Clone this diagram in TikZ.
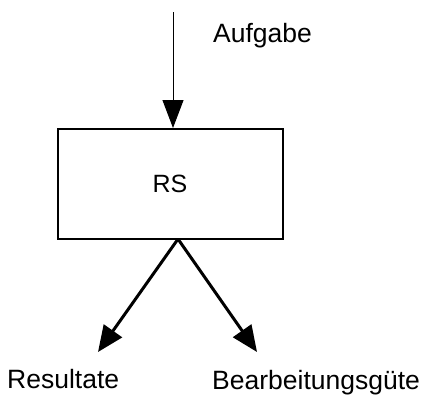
\documentclass[tikz,border=0pt]{standalone}
\usepackage{fontspec}
\setmainfont{Liberation Sans}
\usetikzlibrary{arrows.meta}
\begin{document}
\begin{tikzpicture}[x=1pt,y=-1pt,
  block/.style={draw,line width=2pt,minimum width=225pt,minimum height=110pt,inner sep=0pt,font=\fontsize{25}{28}\selectfont},
  label/.style={inner sep=0pt,anchor=base west,font=\fontsize{26.5}{30}\selectfont},
  thinarrow/.style={line width=1pt,-{Triangle[length=28pt,width=21pt]}},
  thickarrow/.style={line width=3pt,-{Triangle[length=26pt,width=22pt]}}]
  \useasboundingbox (0,0) rectangle (422,397);
  % system block
  \node[block] (rs) at (170,184) {RS};
  % input
  \coordinate (in) at (173,12);
  \draw[thinarrow] (in) -- (in |- rs.north);
  \node[label] (aufgabe) at (213,42) {Aufgabe};
  % outputs
  \coordinate (out) at (178,239);
  \coordinate (endA) at (98,352);
  \coordinate (endB) at (257,352);
  \draw[thickarrow] (out) -- (endA);
  \draw[thickarrow] (out) -- (endB);
  \node[label] (resultate) at (7,388) {Resultate};
  \node[label] (guete) at (212,389) {Bearbeitungsgüte};
\end{tikzpicture}
\end{document}
